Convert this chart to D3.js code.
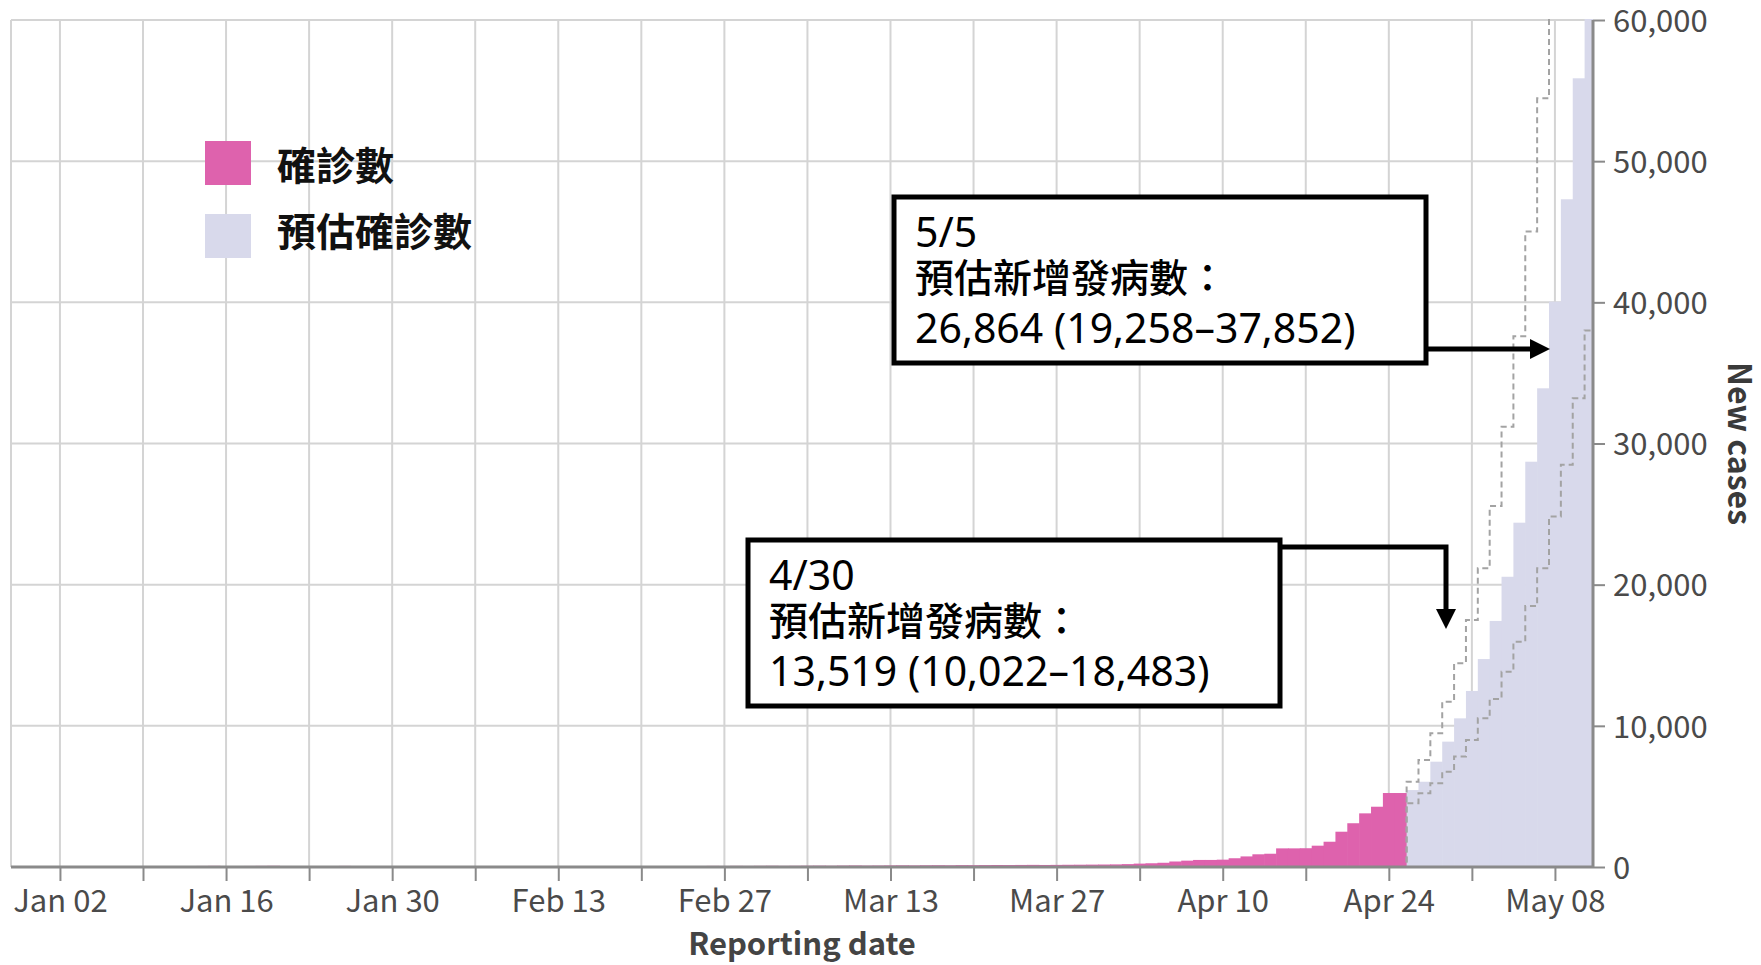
<!DOCTYPE html>
<html>
<head>
<meta charset="utf-8">
<script src="https://cdn.jsdelivr.net/npm/d3@7"></script>
<style>
  body { margin: 0; background: #fff; }
  svg { display: block; }
</style>
</head>
<body>
<div id="chart"></div>
<script>
var svgWidth = 1761;
var svgHeight = 965;

// plot area (pixels)
var plot = { left: 11, right: 1593, top: 20, bottom: 867 };

// ---- data ----
// confirmed daily cases, consecutive days starting 2022-01-01
var confirmedStart = "2022-01-01";
var confirmed = [
  35, 42, 38, 51, 47, 55, 62, 49, 58, 66, 71, 64, 60, 75, 82, 70,
  68, 74, 79, 85, 72, 66, 59, 63, 70, 77, 68, 61, 55, 58, 50,
  46, 43, 48, 52, 57, 49, 54, 61, 58, 52, 47, 55, 60, 63, 57, 51,
  59, 66, 62, 55, 58, 64, 70, 67, 72, 78, 74, 81,
  76, 83, 88, 80, 85, 92, 96, 90, 101, 108, 99, 104, 112, 118, 110, 121,
  126, 119, 131, 128, 135, 142, 138, 146, 151, 144, 150, 158, 163, 170, 176,
  185, 205, 240, 265, 300, 390, 450, 500, 500, 520, 620, 750, 900, 940,
  1320, 1320, 1330, 1510, 1790, 2500, 3100, 3800, 4270, 5240, 5240
];

// projected daily cases, consecutive days starting 2022-04-26
var projStart = "2022-04-26";
var projMedian = [5450, 6040, 7460, 8880, 10530, 12470, 14730, 17430, 20560, 24390, 28710, 33910, 40050, 47300, 55870, 66000];
var projLower  = [4510, 5220, 5930, 6750, 7820, 9000, 10530, 11900, 13840, 15960, 18490, 21160, 24820, 28500, 33200, 38000];
var projUpper  = [6040, 7580, 9470, 11710, 14430, 17500, 21160, 25570, 31190, 37600, 45010, 54450, 66000, 78000, 92000, 108000];

var yTicks = [0, 10000, 20000, 30000, 40000, 50000, 60000];
var xTickStart = "2022-01-02";
var xTickCount = 19; // weekly ticks, Jan 02 .. May 08

var legendLabels = ["確診數", "預估確診數"];
var colors = { confirmed: "#de62ad", projected: "#d8d9eb" };

var notes = [
  { lines: ["5/5", "預估新增發病數：", "26,864 (19,258–37,852)"] },
  { lines: ["4/30", "預估新增發病數：", "13,519 (10,022–18,483)"] }
];

// ---- build ----
var parse = d3.utcParse("%Y-%m-%d");
function seq(start, values) {
  var s = parse(start);
  return values.map(function(v, i) { return { date: d3.utcDay.offset(s, i), value: v }; });
}
var confirmedData = seq(confirmedStart, confirmed);
var medianData = seq(projStart, projMedian);
var lowerData = seq(projStart, projLower);
var upperData = seq(projStart, projUpper);

var svg = d3.select("#chart").append("svg")
  .attr("width", svgWidth)
  .attr("height", svgHeight);

var x = d3.scaleUtc()
  .domain([new Date(Date.UTC(2021, 11, 28, 21)), new Date(Date.UTC(2022, 4, 11, 5))])
  .range([plot.left, plot.right]);

var y = d3.scaleLinear()
  .domain([0, 60000])
  .range([plot.bottom, plot.top]);

var weekly = d3.range(0, xTickCount).map(function(i) { return d3.utcDay.offset(parse(xTickStart), i * 7); });

svg.append("defs").append("clipPath").attr("id", "clip")
  .append("rect")
  .attr("x", plot.left).attr("y", plot.top - 1)
  .attr("width", plot.right - plot.left).attr("height", plot.bottom - plot.top + 1);

// gridlines
var grid = svg.append("g").attr("class", "grid");
grid.selectAll("line.v").data(weekly).enter().append("line")
  .attr("x1", d => x(d)).attr("x2", d => x(d))
  .attr("y1", plot.top).attr("y2", plot.bottom)
  .attr("stroke", "#d4d4d4").attr("stroke-width", 2);
grid.selectAll("line.h").data(yTicks).enter().append("line")
  .attr("x1", plot.left).attr("x2", plot.right)
  .attr("y1", d => y(d)).attr("y2", d => y(d))
  .attr("stroke", "#d4d4d4").attr("stroke-width", 2);
grid.append("line")
  .attr("x1", plot.left).attr("x2", plot.left)
  .attr("y1", plot.top).attr("y2", plot.bottom)
  .attr("stroke", "#d4d4d4").attr("stroke-width", 2);

var marks = svg.append("g").attr("clip-path", "url(#clip)");

function halfDay(d, s) { return new Date(d.getTime() + s * 12 * 3600 * 1000); }

marks.selectAll("rect.confirmed").data(confirmedData).enter().append("rect")
  .attr("x", d => x(halfDay(d.date, -1)))
  .attr("width", d => x(halfDay(d.date, 1)) - x(halfDay(d.date, -1)) + 0.6)
  .attr("y", d => y(d.value))
  .attr("height", d => y(0) - y(d.value))
  .attr("fill", colors.confirmed);

marks.selectAll("rect.projected").data(medianData).enter().append("rect")
  .attr("x", d => x(halfDay(d.date, -1)))
  .attr("width", d => x(halfDay(d.date, 1)) - x(halfDay(d.date, -1)) + 0.6)
  .attr("y", d => y(d.value))
  .attr("height", d => y(0) - y(d.value))
  .attr("fill", colors.projected);

// interval bounds (zero before projection starts)
var stepLine = d3.line()
  .x(d => x(d.date))
  .y(d => y(d.value))
  .curve(d3.curveStep);

function boundSeries(data) {
  var first = [{ date: x.domain()[0], value: 0 }, { date: d3.utcDay.offset(data[0].date, -1), value: 0 }];
  var last = [{ date: x.domain()[1], value: data[data.length - 1].value }];
  return first.concat(data, last);
}

[lowerData, upperData].forEach(function(series) {
  marks.append("path")
    .datum(boundSeries(series))
    .attr("d", stepLine)
    .attr("fill", "none")
    .attr("stroke", "#a3a3a3")
    .attr("stroke-width", 2)
    .attr("stroke-dasharray", "6,4");
});

// x axis
var xAxis = d3.axisBottom(x)
  .tickValues(weekly)
  .tickSize(14)
  .tickSizeOuter(0)
  .tickFormat(function(d, i) { return i % 2 === 0 ? d3.utcFormat("%b %d")(d) : ""; });

var gx = svg.append("g")
  .attr("transform", `translate(0, ${plot.bottom})`)
  .call(xAxis);
gx.select(".domain").attr("stroke", "#8a8a8a").attr("stroke-width", 3)
  .attr("d", `M${plot.left},0H${plot.right}`);
gx.selectAll(".tick line").attr("stroke", "#8a8a8a").attr("stroke-width", 2);
gx.selectAll(".tick text")
  .attr("font-family", "'Noto Sans CJK TC', 'Noto Sans', sans-serif")
  .attr("font-size", "31px")
  .attr("fill", "#4a4a4a")
  .attr("dy", "0.9em");

// y axis
var yAxis = d3.axisRight(y)
  .tickValues(yTicks)
  .tickSize(12)
  .tickSizeOuter(0)
  .tickFormat(d3.format(","));

var gy = svg.append("g")
  .attr("transform", `translate(${plot.right}, 0)`)
  .call(yAxis);
gy.select(".domain").attr("stroke", "#8a8a8a").attr("stroke-width", 3)
  .attr("d", `M0,${plot.top}V${plot.bottom}`);
gy.selectAll(".tick line").attr("stroke", "#8a8a8a").attr("stroke-width", 2);
gy.selectAll(".tick text")
  .attr("font-family", "'Noto Sans CJK TC', 'Noto Sans', sans-serif")
  .attr("font-size", "31px")
  .attr("fill", "#4a4a4a")
  .attr("x", 20)
  .attr("dy", "0.36em");

// axis titles
svg.append("text")
  .attr("x", (plot.left + plot.right) / 2)
  .attr("y", 955)
  .attr("text-anchor", "middle")
  .attr("font-family", "'Noto Sans CJK TC', 'Noto Sans', sans-serif")
  .attr("font-weight", "bold")
  .attr("font-size", "31px")
  .attr("fill", "#444")
  .text("Reporting date");

svg.append("text")
  .attr("transform", `translate(1728, ${(plot.top + plot.bottom) / 2}) rotate(90)`)
  .attr("text-anchor", "middle")
  .attr("font-family", "'Noto Sans CJK TC', 'Noto Sans', sans-serif")
  .attr("font-weight", "bold")
  .attr("font-size", "32px")
  .attr("fill", "#3a3a3a")
  .text("New cases");

// legend
var legend = svg.append("g").attr("transform", "translate(205, 141)");
legend.selectAll("rect").data(legendLabels).enter().append("rect")
  .attr("x", 0).attr("y", (d, i) => i * 73)
  .attr("width", 46).attr("height", 44)
  .attr("fill", (d, i) => i === 0 ? colors.confirmed : colors.projected);
legend.selectAll("text").data(legendLabels).enter().append("text")
  .attr("x", 72).attr("y", (d, i) => 22 + i * 66)
  .attr("dominant-baseline", "central")
  .attr("font-family", "'Noto Sans CJK TC', sans-serif")
  .attr("font-weight", "bold")
  .attr("font-size", "39px")
  .attr("fill", "#111")
  .text(d => d);

// annotation boxes
var boxPos = [{ x: 894, y: 197 }, { x: 748, y: 540 }];
var baselines = [50, 95, 146];
notes.forEach(function(n, k) {
  var g = svg.append("g").attr("transform", `translate(${boxPos[k].x}, ${boxPos[k].y})`);
  g.append("rect")
    .attr("width", 532).attr("height", 166)
    .attr("fill", "#fff").attr("stroke", "#000").attr("stroke-width", 5);
  n.lines.forEach(function(t, i) {
    g.append("text")
      .attr("x", 21).attr("y", baselines[i])
      .attr("font-family", i === 1 ? "'Noto Sans CJK TC', sans-serif" : "'Noto Sans', 'Noto Sans CJK TC', sans-serif")
      .attr("font-weight", i === 1 ? 500 : 400)
      .attr("font-size", i === 1 ? "39px" : "41px")
      .attr("fill", "#000")
      .text(t);
  });
});

// arrows
svg.append("path")
  .attr("d", "M1428,349H1532")
  .attr("fill", "none").attr("stroke", "#000").attr("stroke-width", 5);
svg.append("path")
  .attr("d", "M1530,339L1550,349L1530,359Z")
  .attr("fill", "#000");
svg.append("path")
  .attr("d", "M1282,547H1446V612")
  .attr("fill", "none").attr("stroke", "#000").attr("stroke-width", 5);
svg.append("path")
  .attr("d", "M1436,609L1456,609L1446,629Z")
  .attr("fill", "#000");
</script>
</body>
</html>
